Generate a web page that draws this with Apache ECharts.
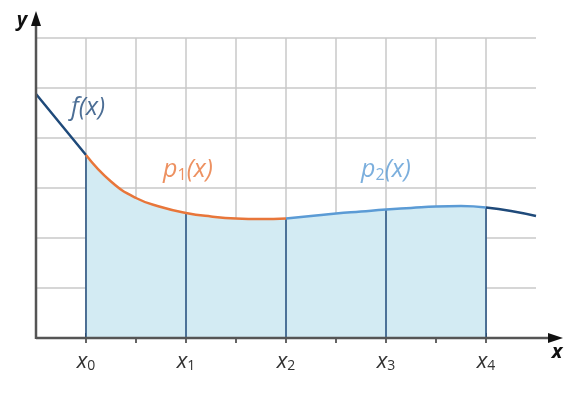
<!DOCTYPE html>
<html><head><meta charset="utf-8">
<script src="https://cdn.jsdelivr.net/npm/echarts@6/dist/echarts.min.js"></script>
<style>html,body{margin:0;padding:0;background:#fff}#c{width:578px;height:394px}</style>
</head><body><div id="c"></div>
<script>
// Curve samples f(x) (x in grid units, y in grid units)
const curveX = [0,0.5,1,1.5,2,2.5,3,3.5,4,4.5,5,5.5,6,6.5,7,7.5,8,8.5,9,9.5,10];
const curveY = [4.88,4.27,3.66,3.13,2.80,2.62,2.50,2.43,2.39,2.38,2.39,2.44,2.49,2.53,2.57,2.60,2.63,2.64,2.61,2.54,2.44];
// Node positions x0..x4
const nodeX = [1,3,5,7,9];
const nodeNames = ['x0','x1','x2','x3','x4'];
// Segment ranges
const p1Range = [1,5];
const p2Range = [5,9];
const fillRange = [1,9];
// Curve labels: [x, y, text]
const curveLabels = [[1.04,4.6,'f'],[3.04,3.36,'p1'],[7.0,3.36,'p2']];

const pts = curveX.map((x,i)=>[x,curveY[i]]);
const seg = (a,b)=>pts.filter(p=>p[0]>=a && p[0]<=b);
const yAt = x => curveY[curveX.indexOf(x)];

const DARK='#1f4a7a', ORANGE='#e8763a', LIGHT='#5b9bd5', FILL='#d3ebf3';
const FONT='Open Sans';
const SM=0.5;

const vertData=[];
nodeX.forEach(x=>{vertData.push([x,0]);vertData.push([x,yAt(x)]);vertData.push([x,'-']);});

const chart = echarts.init(document.getElementById('c'));
chart.setOption({
  animation:false,
  grid:{left:36,top:38,width:500,height:300},
  xAxis:[{type:'value',min:0,max:10,interval:1,
    axisLine:{show:false},
    axisTick:{show:true,length:5,customValues:[1,2,3,4,5,6,7,8,9],lineStyle:{color:'#333',width:1.5}},
    axisLabel:{show:true,customValues:nodeX,margin:12,
      formatter:v=>{const i=nodeX.indexOf(v);return '{i|x}{s|'+nodeNames[i].slice(1)+'}';},
      rich:{i:{fontFamily:FONT,fontStyle:'italic',fontSize:22,color:'#333'},
            s:{fontFamily:FONT,fontSize:14,color:'#333',verticalAlign:'bottom',padding:[9,0,0,0]}}},
    splitLine:{show:true,lineStyle:{color:'#c8c8c8',width:1.5}}},
    {type:'value',min:0,max:10,interval:1,position:'bottom',
    axisLine:{show:false},
    axisTick:{show:true,inside:true,length:5,customValues:[1,2,3,4,5,6,7,8,9],lineStyle:{color:'#333',width:1.5}},
    axisLabel:{show:false},splitLine:{show:false}}],
  yAxis:{type:'value',min:0,max:6,interval:1,
    axisLine:{show:false},axisTick:{show:false},axisLabel:{show:false},
    splitLine:{show:true,lineStyle:{color:'#c8c8c8',width:1.5}}},
  series:[
    {type:'line',data:seg(fillRange[0],fillRange[1]),smooth:SM,symbol:'none',
     lineStyle:{width:0},areaStyle:{color:FILL,opacity:1},z:1},
    {type:'line',data:vertData,symbol:'none',connectNulls:false,
     lineStyle:{color:DARK,width:1.5},z:2},
    {type:'line',data:seg(0,p1Range[0]),smooth:SM,symbol:'none',lineStyle:{color:DARK,width:2.5},z:3},
    {type:'line',data:seg(p1Range[0],p1Range[1]),smooth:SM,symbol:'none',lineStyle:{color:ORANGE,width:2.5},z:3},
    {type:'line',data:seg(p2Range[0],p2Range[1]),smooth:SM,symbol:'none',lineStyle:{color:LIGHT,width:2.5},z:3},
    {type:'line',data:seg(p2Range[1],10),smooth:SM,symbol:'none',lineStyle:{color:DARK,width:2.5},z:3},
    {type:'scatter',data:curveLabels.map(l=>[l[0],l[1],l[2]]),symbolSize:0,z:5,
     label:{show:true,position:'inside',
       formatter:p=>{const t=p.data[2];
         if(t==='f') return '{f|f(x)}';
         if(t==='p1') return '{o|p}{os|1}{o|(x)}';
         return '{b|p}{bs|2}{b|(x)}';},
       rich:{f:{fontFamily:FONT,fontStyle:'italic',fontSize:25,color:DARK},
             o:{fontFamily:FONT,fontStyle:'italic',fontSize:25,color:ORANGE},
             os:{fontFamily:FONT,fontSize:16,color:ORANGE,verticalAlign:'bottom',padding:[10,0,0,0]},
             b:{fontFamily:FONT,fontStyle:'italic',fontSize:25,color:LIGHT},
             bs:{fontFamily:FONT,fontSize:16,color:LIGHT,verticalAlign:'bottom',padding:[10,0,0,0]}}}}
  ]
});
// Axes with arrows
const o = chart.convertToPixel({gridIndex:0},[0,0]);
const xe = chart.convertToPixel({gridIndex:0},[10,6]);
const ax = [o[0], o[1]];
chart.setOption({graphic:[
  {type:'line',shape:{x1:ax[0],y1:ax[1],x2:xe[0]+16,y2:ax[1]},style:{stroke:'#555',lineWidth:2.5},z:10},
  {type:'polygon',shape:{points:[[xe[0]+27,ax[1]],[xe[0]+12,ax[1]-5],[xe[0]+12,ax[1]+5]]},style:{fill:'#111'},z:10},
  {type:'line',shape:{x1:ax[0],y1:ax[1]+1,x2:ax[0],y2:xe[1]-20},style:{stroke:'#555',lineWidth:2.5},z:10},
  {type:'polygon',shape:{points:[[ax[0],xe[1]-27],[ax[0]-5,xe[1]-12],[ax[0]+5,xe[1]-12]]},style:{fill:'#111'},z:10},
  {type:'text',x:xe[0]+21,y:ax[1]+14,style:{text:'x',font:'italic bold 20px "'+FONT+'"',fill:'#111',align:'center',verticalAlign:'middle'},z:10},
  {type:'text',x:ax[0]-14,y:xe[1]-18,style:{text:'y',font:'italic bold 20px "'+FONT+'"',fill:'#111',align:'center',verticalAlign:'middle'},z:10}
]});
</script></body></html>
